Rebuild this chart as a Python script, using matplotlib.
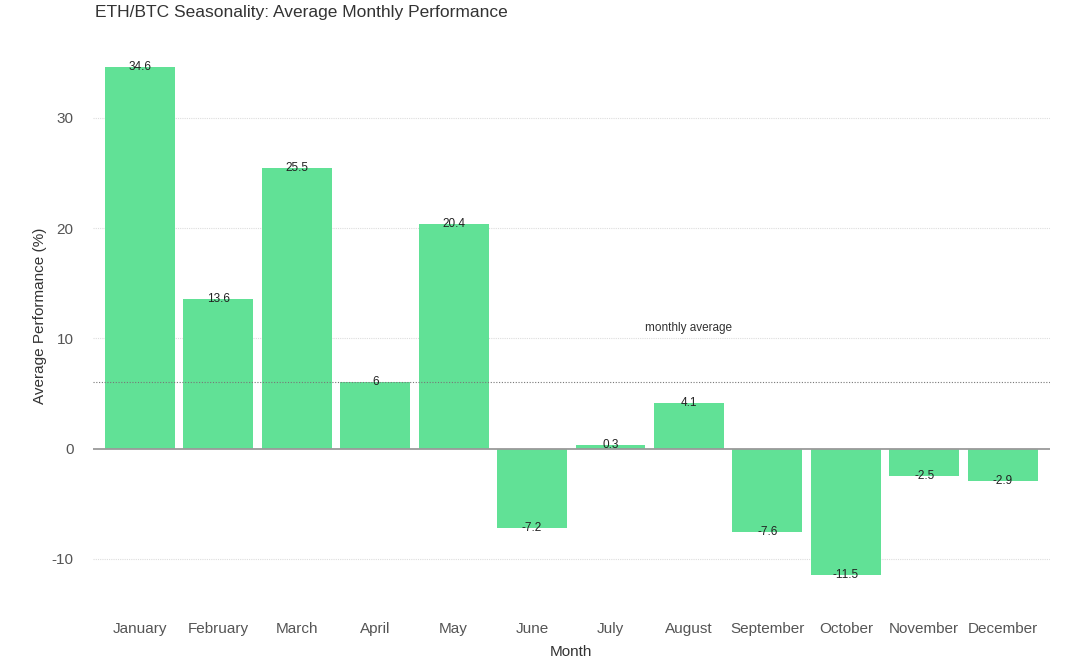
import matplotlib.pyplot as plt
import numpy as np

plt.rcParams['font.family'] = ['Liberation Sans', 'DejaVu Sans']
plt.rcParams['axes.unicode_minus'] = False

# --- Dados ---
meses = ['January', 'February', 'March', 'April', 'May', 'June', 'July',
         'August', 'September', 'October', 'November', 'December']
desempenho = [34.6, 13.6, 25.5, 6, 20.4, -7.2, 0.3, 4.1, -7.6, -11.5, -2.5, -2.9]
rotulos = ['34.6', '13.6', '25.5', '6', '20.4', '-7.2', '0.3', '4.1', '-7.6', '-11.5', '-2.5', '-2.9']
ticks_y = [-10, 0, 10, 20, 30]

COR_BARRA = '#61e196'

fig = plt.figure(figsize=(10.8, 6.68), dpi=100)
ax = fig.add_axes([0.086, 0.114, 0.886, 0.825])

x = np.arange(len(meses))
ax.bar(x, desempenho, width=0.89, color=COR_BARRA, zorder=2)

# rótulos de valor centrados na ponta de cada barra
for xi, v, r in zip(x, desempenho, rotulos):
    ax.text(xi, v, r, ha='center', va='center', fontsize=8.5, color='#222222', zorder=4)

# linhas de grade (pontilhadas) e linha do zero
for t in ticks_y:
    if t == 0:
        ax.axhline(0, color='#9a9a9a', lw=1.3, zorder=3)
    else:
        ax.axhline(t, color='#dddddd', lw=0.8, ls=(0, (1, 1)), zorder=1)

# média mensal
media = np.mean(desempenho)
ax.axhline(media, color='#777777', lw=0.8, ls=(0, (1, 1.5)), zorder=3)
ax.text(7.0, 10.9, 'monthly average', ha='center', va='center', fontsize=8.5, color='#333333')

ax.set_xlim(-0.6, len(meses) - 0.4)
ax.set_ylim(-13, 37)
ax.set_xticks(x)
ax.set_xticklabels(meses)
ax.set_yticks(ticks_y)
ax.tick_params(axis='both', length=0, labelsize=11, colors='#555555')
ax.tick_params(axis='x', pad=22)
ax.tick_params(axis='y', pad=14)
for s in ax.spines.values():
    s.set_visible(False)

ax.set_xlabel('Month', fontsize=11, color='#333333', labelpad=6)
ax.set_ylabel('Average Performance (%)', fontsize=11, color='#333333', labelpad=3)

fig.text(0.088, 0.982, 'ETH/BTC Seasonality: Average Monthly Performance',
         ha='left', va='center', fontsize=12.5, color='#333333')

fig.savefig('out.png', dpi=100, facecolor='white')
